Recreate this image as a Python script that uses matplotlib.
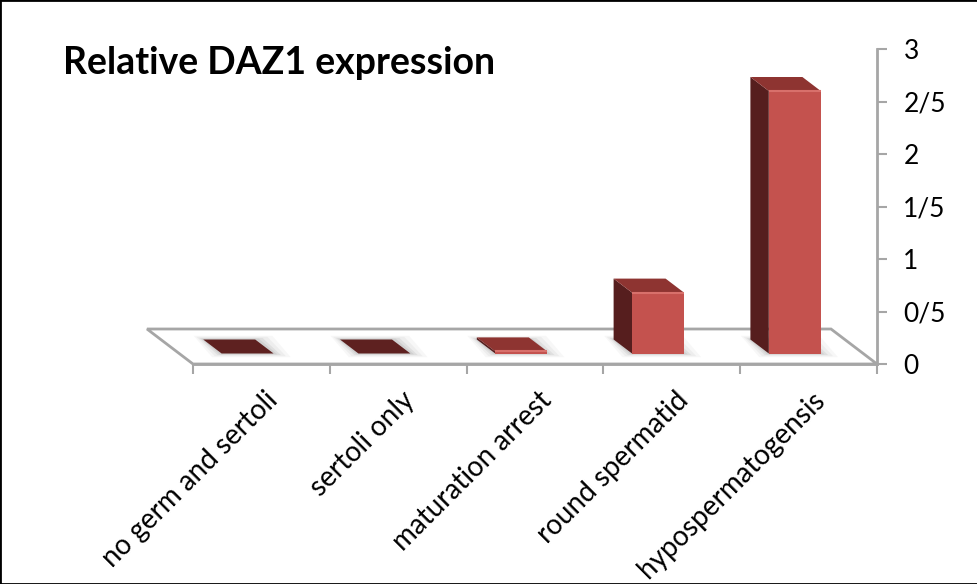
import matplotlib
matplotlib.use("Agg")
import matplotlib.pyplot as plt
import matplotlib.transforms as mtransforms
from matplotlib.patches import Polygon, Rectangle

# data
kategorije = ["no germ and sertoli", "sertoli only", "maturation arrest",
              "round spermatid", "hypospermatogensis"]
vrijednosti = [0.0, 0.0, 0.02, 0.58, 2.5]
y_tickovi = [0, 0.5, 1, 1.5, 2, 2.5, 3]
y_labele = ["0", "0/5", "1", "1/5", "2", "2/5", "3"]
naslov = "Relative DAZ1 expression"

plt.rcParams["font.family"] = ["Lato", "DejaVu Sans"]

# boje (Excel crvena)
prednja = "#C4524E"
bocna = "#561E1E"
gornja = "#8E3431"
ravna = "#5E2120"
siva = "#A6A6A6"

fig = plt.figure(figsize=(9.78, 5.84), dpi=100)
ax = fig.add_axes([193 / 978, 220 / 584, 684 / 978, 315 / 584])
ax.set_xlim(-0.5, 4.5)
ax.set_ylim(0, 3)

# dubina poda u jedinicama podataka
DX = -46 / 136.8
DY = 35 / 105
f0, f1 = 0.3, 0.7
sirina = 0.38

# pod
pod = Polygon([(-0.5, 0), (4.5, 0), (4.5 + DX, DY), (-0.5 + DX, DY)],
              closed=True, facecolor="white", edgecolor=siva, lw=2,
              clip_on=False, zorder=1)
ax.add_patch(pod)

for i, v in enumerate(vrijednosti):
    x0 = i - sirina / 2 + f0 * DX
    x1 = i + sirina / 2 + f0 * DX
    yb = f0 * DY
    ddx = (f1 - f0) * DX
    ddy = (f1 - f0) * DY

    # sjena
    for k, a in [(0.07, 0.06), (0.05, 0.08), (0.03, 0.12), (0.015, 0.15)]:
        sj = Polygon([(x0 - k, yb - k * 0.5), (x1 + k * 1.8, yb - k * 0.5),
                      (x1 + ddx + k * 1.8, yb + ddy + k * 0.5),
                      (x0 + ddx - k, yb + ddy + k * 0.5)],
                     closed=True, facecolor="#808080", edgecolor="none",
                     alpha=a, clip_on=False, zorder=2)
        ax.add_patch(sj)

    yt = yb + v
    if v > 0.01:
        # lijeva strana
        ax.add_patch(Polygon([(x0, yb), (x0 + ddx, yb + ddy), (x0 + ddx, yt + ddy), (x0, yt)],
                             closed=True, facecolor=bocna, edgecolor="none",
                             clip_on=False, zorder=3))
        # prednja strana
        ax.add_patch(Rectangle((x0, yb), x1 - x0, v, facecolor=prednja,
                               edgecolor="none", clip_on=False, zorder=4))
        boja_vrha = gornja
    else:
        boja_vrha = ravna if v == 0 else "#9A3A36"
        if v > 0:
            ax.add_patch(Rectangle((x0, yb), x1 - x0, v, facecolor=prednja,
                                   edgecolor="none", clip_on=False, zorder=4))
    # vrh
    ax.add_patch(Polygon([(x0, yt), (x1, yt), (x1 + ddx, yt + ddy), (x0 + ddx, yt + ddy)],
                         closed=True, facecolor=boja_vrha, edgecolor="none",
                         clip_on=False, zorder=5))
    if v > 0.01:
        # svijetli rub (bevel)
        ax.plot([x0, x1], [yt, yt], color="#D8706B", lw=1.5, zorder=6,
                clip_on=False, solid_capstyle="butt")

# osi
for s in ["top", "left"]:
    ax.spines[s].set_visible(False)
ax.spines["right"].set_color(siva)
ax.spines["right"].set_linewidth(2)
ax.spines["bottom"].set_color(siva)
ax.spines["bottom"].set_linewidth(2)
ax.patch.set_visible(False)

ax.yaxis.tick_right()
ax.set_yticks(y_tickovi)
ax.set_yticklabels(y_labele, fontsize=19)
ax.tick_params(axis="y", direction="out", length=7, width=1.5, color=siva, pad=12)

ax.set_xticks([i - 0.5 for i in range(6)])
ax.set_xticklabels([])
ax.tick_params(axis="x", direction="out", length=7, width=1.5, color=siva)

pomak = mtransforms.ScaledTranslation(0.03, -0.23, fig.dpi_scale_trans)
for i, k in enumerate(kategorije):
    ax.text(i, 0, k, transform=ax.get_xaxis_transform() + pomak,
            rotation=45, rotation_mode="anchor", ha="right", va="top",
            fontsize=20)

fig.text(63 / 978, 1 - 46 / 584, naslov, fontsize=27, fontweight="bold",
         ha="left", va="top")

fig.patches.append(Rectangle((0, 0), 1, 1, transform=fig.transFigure,
                             fill=False, edgecolor="black", lw=2))

fig.savefig("out.png", dpi=100)
